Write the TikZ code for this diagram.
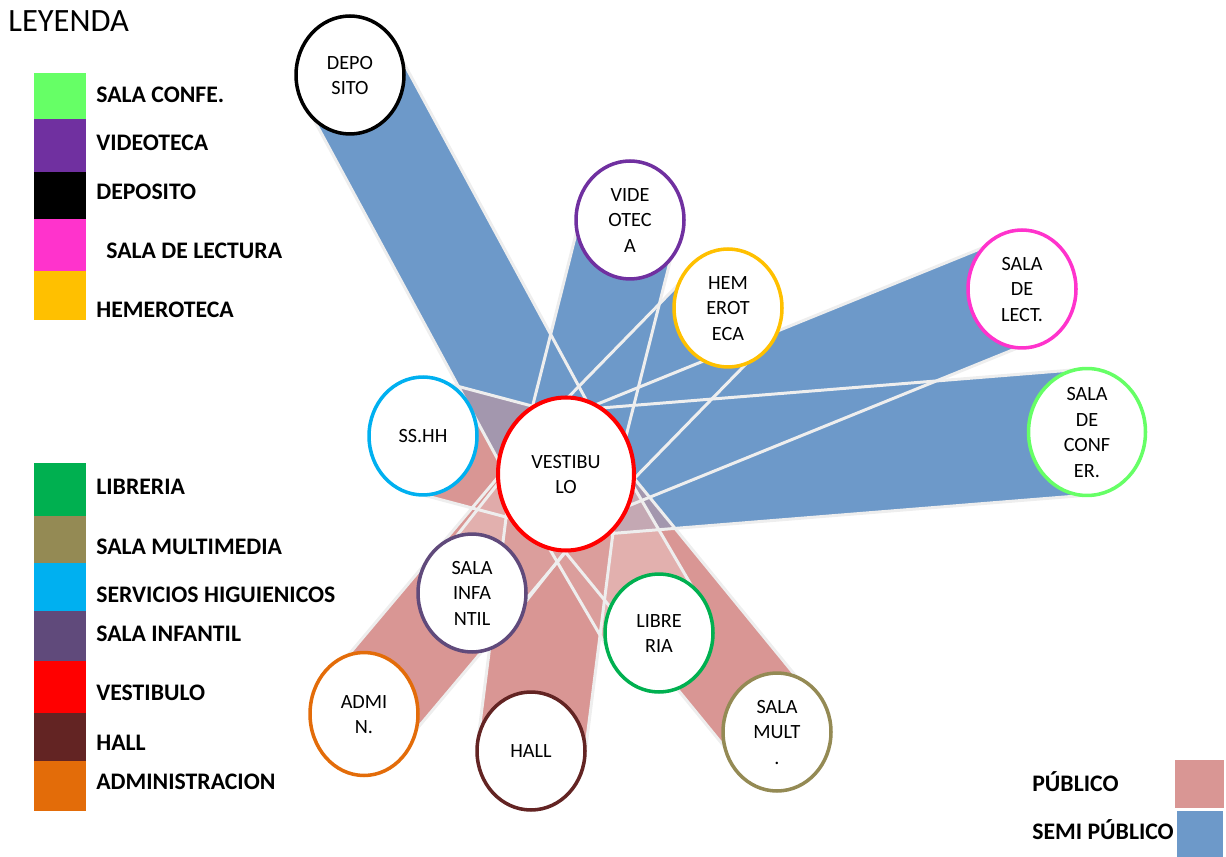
\documentclass[tikz,border=0pt]{standalone}
\usepackage{fontspec}
\setmainfont{Carlito}
\usetikzlibrary{calc, backgrounds, shapes.geometric}
\definecolor{semipub}{HTML}{6D99C9}
\definecolor{publico}{HTML}{D99694}
\definecolor{publight}{HTML}{E6B9B8}
\definecolor{confgreen}{HTML}{66FF66}
\definecolor{vidpurple}{HTML}{7030A0}
\definecolor{lectpink}{HTML}{FF33CC}
\definecolor{hemgold}{HTML}{FFC000}
\definecolor{libgreen}{HTML}{00B050}
\definecolor{multolive}{HTML}{948A54}
\definecolor{sshhcyan}{HTML}{00B0F0}
\definecolor{infviolet}{HTML}{604A7B}
\definecolor{hallbrown}{HTML}{632423}
\definecolor{admorange}{HTML}{E36C09}
\definecolor{edgegrey}{HTML}{EEEEEE}
\tikzset{
    room/.style={ellipse, draw=#1, line width=2pt, fill=white, align=center, inner sep=0pt,
                 minimum width=2.16cm, minimum height=2.36cm, font=\fontsize{11.5}{14.5}\selectfont},
    bandedge/.style={draw=edgegrey, line width=1.7pt, line join=round},
    legtxt/.style={anchor=west, inner sep=0pt, font=\fontsize{13.5}{16}\selectfont\bfseries}
}
\newcommand{\rtxt}[1]{\smash{\raisebox{-4pt}{\begin{tabular}{@{}c@{}}#1\end{tabular}}}}
\newcommand{\roomband}[3]{\path[#1] ($(#2.center)!#3!90:(vest.center)$) -- ($(vest.center)!#3!-90:(#2.center)$)
    -- ($(vest.center)!#3!90:(#2.center)$) -- ($(#2.center)!#3!-90:(vest.center)$) -- cycle;}

\begin{document}
\begin{tikzpicture}[x=0.02cm, y=-0.02cm]
    \useasboundingbox (0,0) rectangle (1226,857);
    % rooms
    \node[room=black] (dep) at (350,75) {\rtxt{DEPO\\SITO}};
    \node[room=vidpurple] (vid) at (630,220) {\rtxt{VIDE\\OTEC\\A}};
    \node[room=hemgold] (hem) at (728,308) {\rtxt{HEM\\EROT\\ECA}};
    \node[room=lectpink] (lect) at (1022,289) {\rtxt{SALA\\DE\\LECT.}};
    \node[room=confgreen, minimum width=2.34cm, minimum height=2.54cm] (conf) at (1087,432) {\rtxt{SALA\\DE\\CONF\\ER.}};
    \node[room=sshhcyan] (sshh) at (423,436) {\rtxt{SS.HH}};
    \node[room=red, line width=2.3pt, minimum width=2.72cm, minimum height=3.06cm] (vest) at (566,474) {\rtxt{VESTIBU\\LO}};
    \node[room=infviolet] (inf) at (472,593) {\rtxt{SALA\\INFA\\NTIL}};
    \node[room=admorange, minimum height=2.46cm] (adm) at (364,714) {\rtxt{ADMI\\N.}};
    \node[room=hallbrown] (hall) at (531,751) {\rtxt{HALL}};
    \node[room=libgreen] (lib) at (659,633) {\rtxt{LIBRE\\RIA}};
    \node[room=multolive] (mult) at (777,732) {\rtxt{SALA\\MULT\\.}};
    % bands to the vestibulo
    \begin{scope}[on background layer]
        \foreach \r/\w/\c in {adm/1.0cm/publico, sshh/1.14cm/publico, mult/1.0cm/publico,
                              inf/0.95cm/publight, lib/1.04cm/publight, hall/1.08cm/publico}
            \roomband{fill=\c}{\r}{\w};
        \foreach \r/\w in {dep/1.06cm, vid/0.98cm, hem/1.04cm, conf/1.26cm, lect/1.06cm}
            \roomband{fill=semipub}{\r}{\w};
        % public bands once more, half see-through, to tint the blue ones
        \foreach \r/\w/\c in {adm/1.0cm/publico, sshh/1.14cm/publico, mult/1.0cm/publico,
                              inf/0.95cm/publight, lib/1.04cm/publight, hall/1.08cm/publico}
            \roomband{fill=\c, fill opacity=0.5}{\r}{\w};
        \foreach \r/\w in {adm/1.0cm, sshh/1.14cm, mult/1.0cm, inf/0.95cm, lib/1.04cm, hall/1.08cm,
                           dep/1.06cm, vid/0.98cm, hem/1.04cm, conf/1.26cm, lect/1.06cm}
            \roomband{bandedge}{\r}{\w};
    \end{scope}
    % legend
    \node[anchor=west, inner sep=0pt, font=\fontsize{18.5}{20}\selectfont] (leyenda) at (8,21) {LEYENDA};
    \foreach \c/\ya/\yb in {confgreen/73/119, vidpurple/119/172, black/172/219, lectpink/219/271,
                            hemgold/271/320, libgreen/463/516, multolive/516/563, sshhcyan/563/611,
                            infviolet/611/661, red/661/713, hallbrown/713/761, admorange/761/811}
        \fill[fill=\c] (34,\ya) rectangle (86,\yb);
    \foreach \n/\t/\y in {conf/SALA CONFE./95, vid/VIDEOTECA/143, dep/DEPOSITO/192, hem/HEMEROTECA/310,
                          lib/LIBRERIA/487, mult/SALA MULTIMEDIA/547, sshh/SERVICIOS HIGUIENICOS/595,
                          inf/SALA INFANTIL/634, vest/VESTIBULO/693, hall/HALL/743, adm/ADMINISTRACION/782}
        \node[legtxt] (l\n) at (96,\y) {\t};
    \node[legtxt] (llect) at (106,251) {SALA DE LECTURA};
    % access key
    \node[legtxt] (lpub) at (1032,782) {PÚBLICO};
    \node[legtxt] (lsemi) at (1032,830) {SEMI PÚBLICO};
    \fill[publico] (1175,760) rectangle (1224,808);
    \fill[semipub] (1177,811) rectangle (1223,857);
\end{tikzpicture}
\end{document}
